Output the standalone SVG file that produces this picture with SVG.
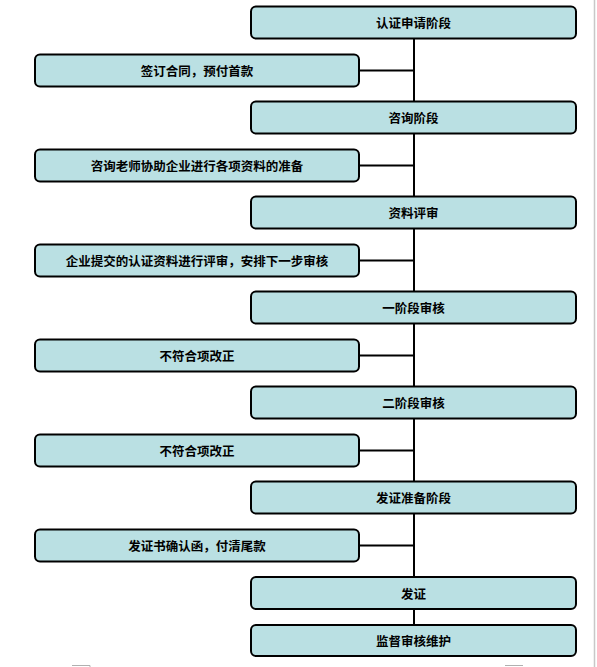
<svg xmlns="http://www.w3.org/2000/svg" width="597" height="667" viewBox="0 0 597 667">
<style>
.box{fill:#bae0e3;stroke:#000;stroke-width:2}
.t{font-family:"Noto Sans CJK SC","Liberation Sans",sans-serif;font-size:12.5px;font-weight:bold;fill:#000;text-anchor:middle;dominant-baseline:central}
.c{stroke:#000;stroke-width:2;fill:none}
</style>
<rect width="597" height="667" fill="#fff"/>
<line x1="594.5" y1="0" x2="594.5" y2="667" stroke="#c8c8c8" stroke-width="1.5"/>
<path d="M72 665.5H90V667M505 665.5H523" stroke="#b0b0b0" stroke-width="1" fill="none"/>
<g id="connectors">
<path class="c" d="M414 39V577M414 609V625"/>
<path class="c" d="M359 70.5H414M359 165.5H414M359 260.5H414M359 355.5H414M359 450.5H414M359 545.5H414"/>
</g>
<g id="n1"><rect class="box" x="251" y="6.5" width="325" height="32" rx="5"/><text class="t" x="413.5" y="22.5">认证申请阶段</text></g>
<g id="n2"><rect class="box" x="35" y="54.5" width="324" height="32" rx="5"/><text class="t" x="197" y="70.5">签订合同，预付首款</text></g>
<g id="n3"><rect class="box" x="251" y="101.5" width="325" height="32" rx="5"/><text class="t" x="413.5" y="117.5">咨询阶段</text></g>
<g id="n4"><rect class="box" x="35" y="149.5" width="324" height="32" rx="5"/><text class="t" x="197" y="165.5">咨询老师协助企业进行各项资料的准备</text></g>
<g id="n5"><rect class="box" x="251" y="196.5" width="325" height="32" rx="5"/><text class="t" x="413.5" y="212.5">资料评审</text></g>
<g id="n6"><rect class="box" x="35" y="244.5" width="324" height="32" rx="5"/><text class="t" x="197" y="260.5">企业提交的认证资料进行评审，安排下一步审核</text></g>
<g id="n7"><rect class="box" x="251" y="291.5" width="325" height="32" rx="5"/><text class="t" x="413.5" y="307.5">一阶段审核</text></g>
<g id="n8"><rect class="box" x="35" y="339.5" width="324" height="32" rx="5"/><text class="t" x="197" y="355.5">不符合项改正</text></g>
<g id="n9"><rect class="box" x="251" y="386.5" width="325" height="32" rx="5"/><text class="t" x="413.5" y="402.5">二阶段审核</text></g>
<g id="n10"><rect class="box" x="35" y="434.5" width="324" height="32" rx="5"/><text class="t" x="197" y="450.5">不符合项改正</text></g>
<g id="n11"><rect class="box" x="251" y="481.5" width="325" height="32" rx="5"/><text class="t" x="413.5" y="497.5">发证准备阶段</text></g>
<g id="n12"><rect class="box" x="35" y="529.5" width="324" height="32" rx="5"/><text class="t" x="197" y="545.5">发证书确认函，付清尾款</text></g>
<g id="n13"><rect class="box" x="251" y="577" width="325" height="32" rx="5"/><text class="t" x="413.5" y="593">发证</text></g>
<g id="n14"><rect class="box" x="251" y="625" width="325" height="31" rx="5"/><text class="t" x="413.5" y="640.5">监督审核维护</text></g>
</svg>
